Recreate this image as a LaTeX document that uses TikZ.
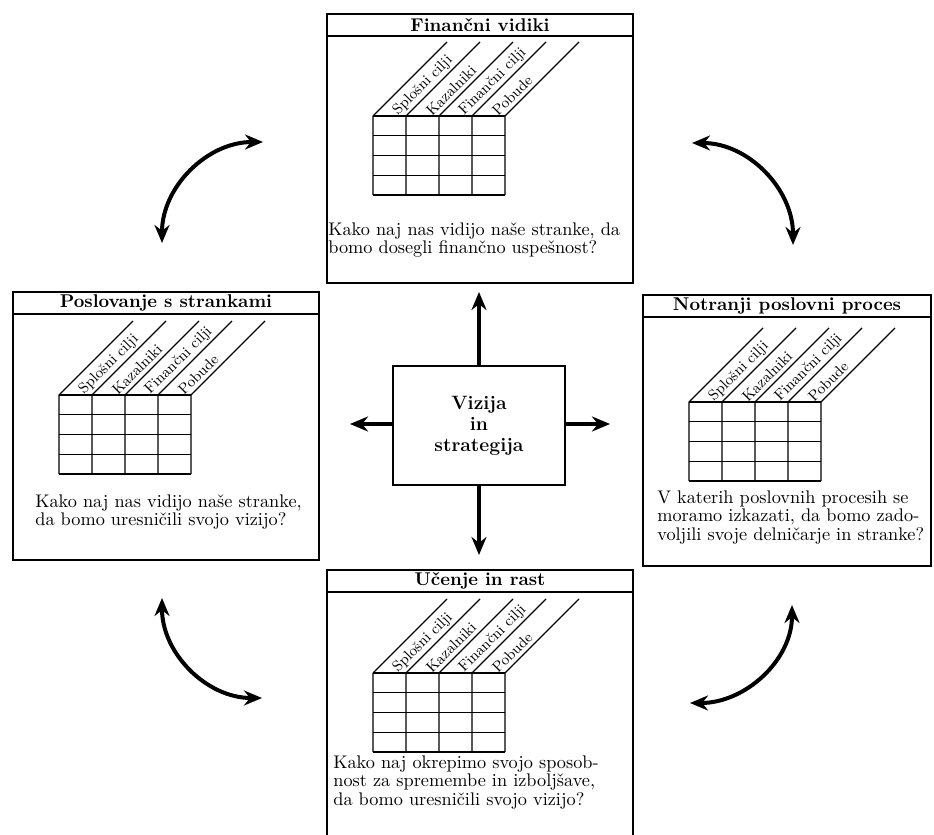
\documentclass[tikz,border=0pt]{standalone}
\usepackage{fontspec}
\usetikzlibrary{arrows.meta}
\usetikzlibrary{calc}
\tikzset{>={Stealth[length=3.6mm,width=3mm]}}
\tikzstyle{blackline}=[draw=black,line width=0.25mm]
\tikzstyle{panel}=[draw=black,line width=0.4mm,inner sep=0pt,anchor=north west]
\tikzstyle{paneltitle}=[draw=black,line width=0.4mm,inner sep=0pt,anchor=north,minimum height=0.44cm,font=\fontsize{10.5}{12}\selectfont\bfseries]
\tikzstyle{paneltext}=[inner sep=0pt,anchor=north west,align=left,font=\fontsize{10.4}{10.6}\selectfont]
\tikzstyle{collabel}=[rotate=45,anchor=west,inner sep=1pt,font=\fontsize{8.5}{9}\selectfont]
\tikzstyle{visionbox}=[draw=black,line width=0.3mm,minimum width=3.44cm,minimum height=2.38cm,align=center,font=\fontsize{11}{12}\selectfont\bfseries]
\tikzstyle{arrowline}=[draw=black,line width=0.8mm]

% table with slanted column heads, #1,#2 = top left corner
\newcommand{\bsctable}[2]{%
  \foreach \i in {0,...,4}
    \draw[blackline] (#1+\i*0.66,#2) -- ++(0,-1.58) (#1+\i*0.66,#2) -- ++(1.48,1.48);
  \foreach \j in {0,...,4}
    \draw[blackline] (#1,#2-\j*0.395) -- ++(2.64,0);
  \foreach \lab [count=\i from 0] in {Splošni cilji,Kazalniki,Finančni cilji,Pobude}
    \node[collabel] at (#1+\i*0.66+0.42,#2+0.03) {\lab};
}

\begin{document}
\begin{tikzpicture}
    \useasboundingbox (0,0) rectangle (18.68,16.68);

    % Financni vidiki (top)
    \node[panel,minimum width=6.12cm,minimum height=5.38cm] (fin) at (6.52,16.42) {};
    \node[paneltitle,minimum width=6.12cm] (fintitle) at (fin.north) {Finančni vidiki};
    \bsctable{7.46}{14.36}
    \node[paneltext] (fintext) at (6.56,12.24)
    {Kako naj nas vidijo naše stranke, da\\bomo dosegli finančno uspešnost?};

    % Poslovanje s strankami (left)
    \node[panel,minimum width=6.12cm,minimum height=5.36cm] (str) at (0.24,10.86) {};
    \node[paneltitle,minimum width=6.12cm] (strtitle) at (str.north) {Poslovanje s strankami};
    \bsctable{1.18}{8.78}
    \node[paneltext] (strtext) at (0.70,6.80)
    {Kako naj nas vidijo naše stranke,\\da bomo uresničili svojo vizijo?};

    % Notranji poslovni proces (right)
    \node[panel,minimum width=5.76cm,minimum height=5.42cm] (proc) at (12.84,10.80) {};
    \node[paneltitle,minimum width=5.76cm] (proctitle) at (proc.north) {Notranji poslovni proces};
    \bsctable{13.78}{8.64}
    \node[paneltext] (proctext) at (13.14,6.88)
    {V katerih poslovnih procesih se\\moramo izkazati, da bomo zado-\\voljili svoje delničarje in stranke?};

    % Ucenje in rast (bottom)
    \node[panel,minimum width=6.12cm,minimum height=5.40cm] (rast) at (6.52,5.30) {};
    \node[paneltitle,minimum width=6.12cm] (rasttitle) at (rast.north) {Učenje in rast};
    \bsctable{7.46}{3.22}
    \node[paneltext] (rasttext) at (6.66,1.58)
    {Kako naj okrepimo svojo sposob-\\nost za spremembe in izboljšave,\\da bomo uresničili svojo vizijo?};

    % centre
    \node[visionbox] (vizija) at (9.58,8.17) {Vizija\\in\\strategija};

    \coordinate (upend) at (9.58,10.84);
    \coordinate (downend) at (9.58,5.58);
    \coordinate (leftend) at (7.0,8.2);
    \coordinate (rightend) at (12.2,8.2);
    \draw[arrowline,->] (vizija.north) -- (upend);
    \draw[arrowline,->] (vizija.south) -- (downend);
    \draw[arrowline,->] (vizija.west |- leftend) -- (leftend);
    \draw[arrowline,->] (vizija.east |- rightend) -- (rightend);

    % curved arrows between the panels
    \coordinate (tla) at (3.24,11.82);
    \coordinate (tlb) at (5.26,13.84);
    \coordinate (tra) at (13.84,13.82);
    \coordinate (trb) at (15.86,11.78);
    \coordinate (bla) at (3.24,4.72);
    \coordinate (blb) at (5.24,2.72);
    \coordinate (bra) at (15.84,4.58);
    \coordinate (brb) at (13.80,2.62);
    \draw[arrowline,<->] (tla) to[out=90,in=180] (tlb);
    \draw[arrowline,<->] (tra) to[out=0,in=90] (trb);
    \draw[arrowline,<->] (bla) to[out=270,in=180] (blb);
    \draw[arrowline,<->] (bra) to[out=270,in=0] (brb);
\end{tikzpicture}
\end{document}
